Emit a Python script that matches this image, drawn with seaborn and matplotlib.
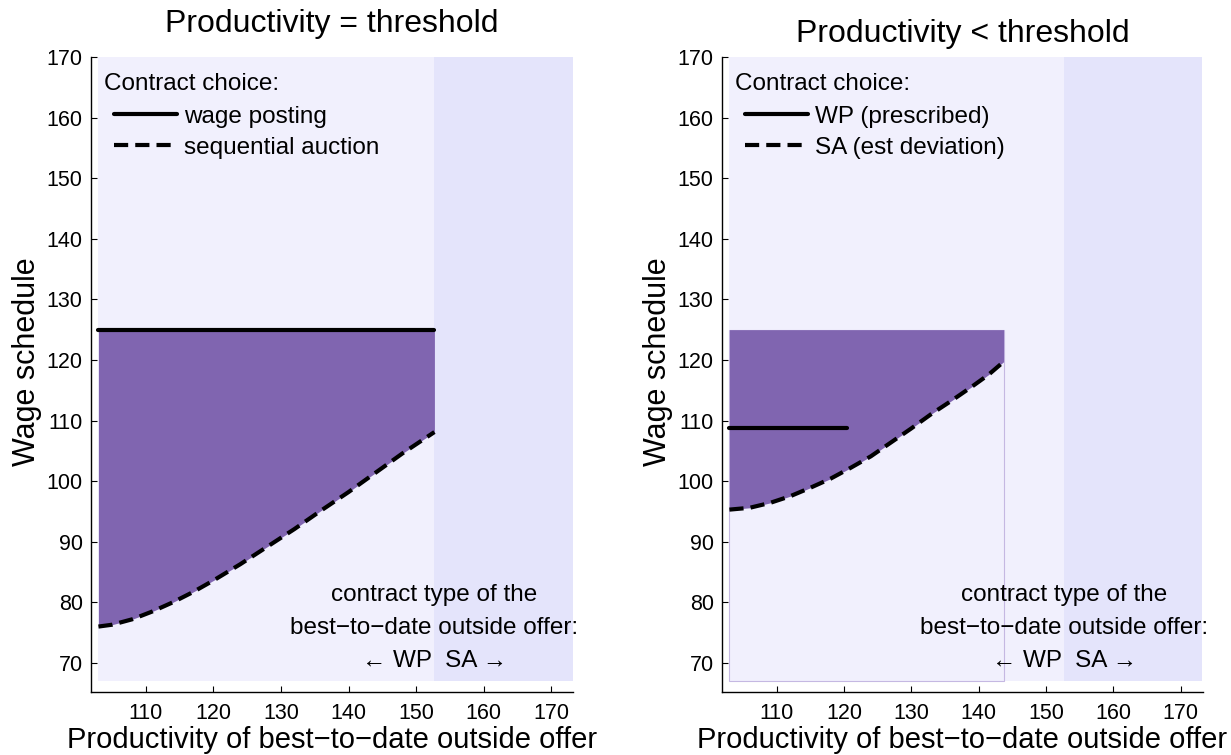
import numpy as np
import pandas as pd
import matplotlib
matplotlib.use("Agg")
import matplotlib.pyplot as plt
from matplotlib.patches import Rectangle
import seaborn as sns

# ---------------- data ----------------
x_start = 103.0
threshold = 152.7
x_end = 173.2
y_floor = 67.0
y_top = 170.0

# Left panel: productivity = threshold
left_sa_x = [103, 105, 108, 111, 114, 117, 120, 124, 128, 132, 136, 140, 144, 148, 152.7]
left_sa_y = [76.0, 76.3, 77.2, 78.5, 80.0, 81.7, 83.6, 86.3, 89.2, 92.1, 95.2, 98.2, 101.4, 104.6, 108.1]
left_wp_x = [103, 152.7]
left_wp_y = [125, 125]

# Right panel: productivity < threshold
right_sa_x = [103, 106, 109, 112, 115, 118, 121, 124, 127, 130, 133, 136, 139, 141.5, 143.7]
right_sa_y = [95.3, 95.6, 96.4, 97.5, 98.9, 100.4, 102.2, 104.1, 106.4, 108.7, 111.1, 113.3, 115.6, 117.6, 119.7]
right_wp_x = [103, 120.5]
right_wp_y = [108.7, 108.7]
right_rect_x = [103, 143.7]
right_rect_y = [67, 125]

x_ticks = [110, 120, 130, 140, 150, 160, 170]
y_ticks = [70, 80, 90, 100, 110, 120, 130, 140, 150, 160, 170]

titles = ["Productivity = threshold", "Productivity < threshold"]
legend_title = "Contract choice:"
legend_labels = [["wage posting", "sequential auction"],
                 ["WP (prescribed)", "SA (est deviation)"]]
xlabel = "Productivity of best\u2212to\u2212date outside offer"
ylabel = "Wage schedule"
note = "contract type of the\nbest\u2212to\u2212date outside offer:\n\u2190 WP  SA \u2192"

# ---------------- style ----------------
sns.set_theme(style="ticks")
plt.rcParams['font.family'] = ['Liberation Sans', 'DejaVu Sans']
plt.rcParams['axes.unicode_minus'] = True
plt.rcParams['text.color'] = 'black'
plt.rcParams['axes.labelcolor'] = 'black'

purple = "#8065B0"
light_bg = "#F1F0FD"
sa_bg = "#E4E4FB"
dash_pat = [3.4, 1.7]

fig = plt.figure(figsize=(12.31, 7.55), dpi=100)
ax_l = fig.add_axes([91 / 1231, 63 / 755, 482 / 1231, 635 / 755])
ax_r = fig.add_axes([722 / 1231, 63 / 755, 481 / 1231, 635 / 755])

def base(ax, xlim):
    ax.set_xlim(*xlim)
    ax.set_ylim(65.2, y_top)
    ax.fill_between([x_start, threshold], y_floor, y_top, color=light_bg, lw=0, zorder=0)
    ax.fill_between([threshold, x_end], y_floor, y_top, color=sa_bg, lw=0, zorder=0)
    for s in ["top", "right"]:
        ax.spines[s].set_visible(False)
    for s in ["left", "bottom"]:
        ax.spines[s].set_color("black")
        ax.spines[s].set_linewidth(1.0)
    ax.set_xticks(x_ticks)
    ax.set_yticks(y_ticks)
    ax.tick_params(direction="in", length=4.5, width=0.8, colors="black",
                   labelsize=15.5, left=True, bottom=True)
    ax.tick_params(axis="y", pad=6)
    ax.tick_params(axis="x", pad=8)
    ax.text(threshold, 75.8, note, ha="center", va="center", fontsize=17.5,
            linespacing=1.65, zorder=5, color="black")

def finish(ax, title, pad):
    ax.set_xlabel(xlabel, fontsize=21, labelpad=1, color="black")
    ax.set_ylabel(ylabel, fontsize=22, labelpad=3, color="black")
    ax.yaxis.label.set_y(0.52)
    ax.set_title(title, fontsize=23, pad=pad, color="black")
    ax.text(0.027, 0.948, legend_title, transform=ax.transAxes, ha="left",
            va="baseline", fontsize=17.5, zorder=5, color="black")
    leg = ax.legend(loc="upper left", frameon=False,
                    fontsize=17.5, handlelength=2.6,
                    handletextpad=0.3, borderaxespad=0.0, labelspacing=0.37,
                    borderpad=0.0, bbox_to_anchor=(0.047, 0.923))
    for t in leg.get_texts():
        t.set_color("black")

# ---- left panel ----
base(ax_l, (101.9, 173.2))
dl = pd.DataFrame({"x": left_sa_x, "y": left_sa_y})
ax_l.fill_between(dl["x"], dl["y"], 125, color=purple, lw=0, zorder=1)
wl = pd.DataFrame({"x": left_wp_x, "y": left_wp_y})
sns.lineplot(data=wl, x="x", y="y", ax=ax_l, color="black", lw=3,
             label=legend_labels[0][0], zorder=3)
sns.lineplot(data=dl, x="x", y="y", ax=ax_l, color="black", lw=3,
             label=legend_labels[0][1], zorder=3)
ax_l.lines[-1].set_dashes(dash_pat)
finish(ax_l, titles[0], 18)

# ---- right panel ----
base(ax_r, (101.9, 173.3))
ax_r.add_patch(Rectangle((right_rect_x[0], right_rect_y[0]),
                         right_rect_x[1] - right_rect_x[0],
                         right_rect_y[1] - right_rect_y[0],
                         facecolor="none", edgecolor="#C5B8E2", lw=0.8, zorder=1))
dr = pd.DataFrame({"x": right_sa_x, "y": right_sa_y})
ax_r.fill_between(dr["x"], dr["y"], right_rect_y[1], color=purple, lw=0, zorder=1.5)
wr = pd.DataFrame({"x": right_wp_x, "y": right_wp_y})
sns.lineplot(data=wr, x="x", y="y", ax=ax_r, color="black", lw=3,
             label=legend_labels[1][0], zorder=3)
sns.lineplot(data=dr, x="x", y="y", ax=ax_r, color="black", lw=3,
             label=legend_labels[1][1], zorder=3)
ax_r.lines[-1].set_dashes(dash_pat)
finish(ax_r, titles[1], 10.5)

fig.savefig("out.png", dpi=100)
